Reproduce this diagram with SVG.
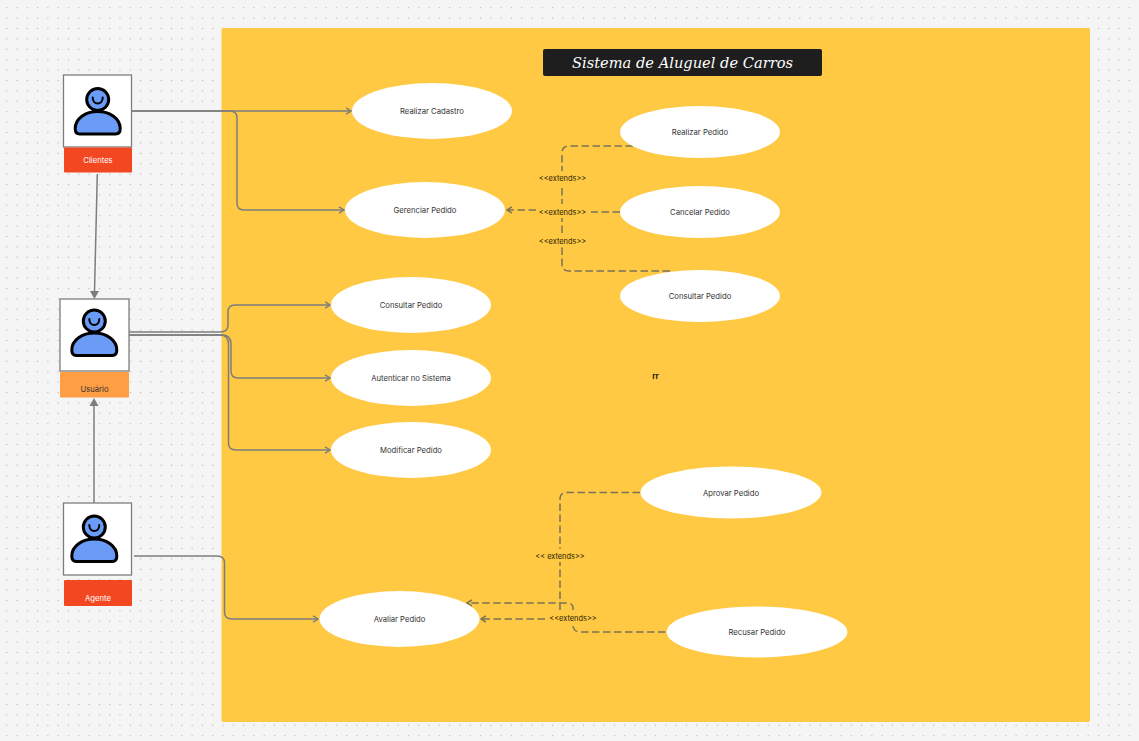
<svg xmlns="http://www.w3.org/2000/svg" width="1139" height="741" viewBox="0 0 1139 741">
<style>
text{font-family:Inter,"Liberation Sans",sans-serif;font-size:7.7px;fill:#333;text-anchor:middle}
.lb{fill:#2a2008;font-size:7.4px}
.uc{fill:#fff}
.w{fill:#fff}
.l{fill:none;stroke:#7d7d7d;stroke-width:1.5}
.a{marker-end:url(#arr)}
.d{fill:none;stroke:#7a7358;stroke-width:1.5;stroke-dasharray:7.500 3.500}
.box{fill:#fff;stroke:#7d7d7d;stroke-width:1.3}
</style>
<defs>
<pattern id="dots" x="1.5" y="2.5" width="10.3" height="10.4" patternUnits="userSpaceOnUse"><rect x="4.6" y="4.6" width="1.2" height="1.2" fill="#b8b8b8"/></pattern>
<marker id="arr" viewBox="0 0 10 10" refX="9" refY="5" markerWidth="7" markerHeight="10" markerUnits="userSpaceOnUse" orient="auto"><path d="M2 0.5L9 5L2 9.5" fill="none" stroke="#7d7d7d" stroke-width="2"/></marker>
<marker id="darr" viewBox="0 0 10 10" refX="9" refY="5" markerWidth="7" markerHeight="10" markerUnits="userSpaceOnUse" orient="auto"><path d="M2 0.5L9 5L2 9.5" fill="none" stroke="#7a7358" stroke-width="2.200"/></marker>
<g id="person">
<path d="M-18 34.500Q-22.500 34.500 -22.500 29C-22.500 19 -12 12 0 12C12 12 22.500 19 22.500 29Q22.500 34.500 18 34.500Z" fill="#699bf7" stroke="#000" stroke-width="3" stroke-linejoin="round"/>
<circle cx="0" cy="0" r="11" fill="#699bf7" stroke="#000" stroke-width="3"/>
<path d="M-5 -2C-5 6 5 6 5 -2" fill="none" stroke="#000" stroke-width="2" stroke-linecap="round"/>
</g>
</defs>
<rect width="1139" height="741" fill="#f5f5f5"/>
<rect width="1139" height="741" fill="url(#dots)"/>
<rect x="221.500" y="28" width="868.500" height="694" rx="2" fill="#ffc943"/>
<g id="title"><rect x="543" y="49" width="279" height="27" rx="2" fill="#1e1e1e"/>
<text x="682.500" y="67.500" textLength="221" lengthAdjust="spacingAndGlyphs" style="font-family:'DejaVu Serif',serif;font-style:italic;font-size:14px;fill:#fff">Sistema de Aluguel de Carros</text></g>
<g id="connectors">
<path class="l a" d="M131 111H351"/>
<path class="l a" d="M131 111H230Q237 111 237 118V203Q237 210 244 210H344"/>
<path class="l" d="M97.300 174L94.500 292"/>
<path d="M94.400 299L90 291H99Z" fill="#7d7d7d"/>
<path class="l" d="M94 503V405"/>
<path d="M94 398L89.500 406H98.500Z" fill="#7d7d7d"/>
<path class="l a" d="M134 556H217Q224.500 556 224.500 563V612Q224.500 619 232 619H318"/>
<path class="l a" d="M127 332H220Q228 332 228 325V312Q228 305 235 305H330"/>
<path class="l a" d="M127 335H222Q231 335 231 344V371Q231 378 238 378H330"/>
<path class="l a" d="M127 335H220Q228.500 335 228.500 344V443Q228.500 450 236 450H330"/>
<path class="d" d="M633 146H569Q562 146 562 153V212"/>
<path class="d" d="M670 271H569Q562 271 562 264V212"/>
<path class="d" d="M620 212H560"/>
<path class="d" d="M536 210H507" marker-end="url(#darr)"/>
<path class="d" d="M640 492.500H567Q560 492.500 560 499.500V610"/>
<path class="d" d="M573 610V607Q572 603 567 603H467" marker-end="url(#darr)"/>
<path class="d" d="M545 619H481" marker-end="url(#darr)"/>
<path class="d" d="M573 626Q574 632 580 632H666"/>
</g>
<g id="clientes"><rect class="box" x="63.500" y="75" width="68" height="72"/><use href="#person" x="97.700" y="99.500"/><rect x="64" y="147.500" width="68" height="25" rx="1" fill="#f24822"/><text class="uc" x="98" y="163">Clientes</text></g>
<g id="usuario"><rect class="box" x="60" y="299" width="69" height="72"/><use href="#person" x="94.300" y="321"/><rect x="60" y="372" width="69" height="25.500" rx="1" fill="#ff9e42"/><text x="94.500" y="391.500">Usuário</text></g>
<g id="agente"><rect class="box" x="63.500" y="503" width="68" height="72"/><use href="#person" x="94.300" y="527"/><rect x="64" y="580" width="68" height="26" rx="1" fill="#f24822"/><text class="uc" x="98" y="600.500">Agente</text></g>
<g id="realizar-cadastro"><ellipse class="w" cx="432" cy="111" rx="80" ry="28"/><text x="432" y="114">Realizar Cadastro</text></g>
<g id="gerenciar-pedido"><ellipse class="w" cx="425" cy="210" rx="80" ry="28"/><text x="425" y="213">Gerenciar Pedido</text></g>
<g id="realizar-pedido"><ellipse class="w" cx="700" cy="132" rx="80" ry="26"/><text x="700" y="135">Realizar Pedido</text></g>
<g id="cancelar-pedido"><ellipse class="w" cx="700" cy="212" rx="80" ry="26"/><text x="700" y="215">Cancelar Pedido</text></g>
<g id="consultar-pedido-2"><ellipse class="w" cx="700" cy="296" rx="80" ry="26"/><text x="700" y="299">Consultar Pedido</text></g>
<g id="consultar-pedido"><ellipse class="w" cx="411" cy="305" rx="80" ry="28"/><text x="411" y="308">Consultar Pedido</text></g>
<g id="autenticar"><ellipse class="w" cx="411" cy="378" rx="80" ry="28"/><text x="411" y="381">Autenticar no Sistema</text></g>
<g id="modificar-pedido"><ellipse class="w" cx="411" cy="450" rx="80" ry="28"/><text x="411" y="453">Modificar Pedido</text></g>
<g id="aprovar-pedido"><ellipse class="w" cx="731" cy="492.500" rx="90.500" ry="26"/><text x="731" y="495.500">Aprovar Pedido</text></g>
<g id="recusar-pedido"><ellipse class="w" cx="757" cy="632" rx="90.500" ry="25.500"/><text x="757" y="635">Recusar Pedido</text></g>
<g id="avaliar-pedido"><ellipse class="w" cx="399.500" cy="619" rx="80" ry="28"/><text x="399.500" y="622">Avaliar Pedido</text></g>
<g id="labels">
<rect x="536" y="171" width="53" height="15" fill="#ffc943"/><text class="lb" x="562.500" y="181">&lt;&lt;extends&gt;&gt;</text>
<rect x="536" y="204" width="55" height="14" fill="#ffc943"/><text class="lb" x="562.500" y="214.500">&lt;&lt;extends&gt;&gt;</text>
<rect x="536" y="233" width="53" height="13" fill="#ffc943"/><text class="lb" x="562.500" y="244">&lt;&lt;extends&gt;&gt;</text>
<rect x="533" y="549" width="54" height="13" fill="#ffc943"/><text class="lb" x="560" y="558.500">&lt;&lt; extends&gt;&gt;</text>
<rect x="546" y="610" width="54" height="16" fill="#ffc943"/><text class="lb" x="573" y="620.500">&lt;&lt;extends&gt;&gt;</text>
<text class="lb" x="655.500" y="378.500" style="font-size:8px;font-weight:700">rr</text>
</g>
</svg>
